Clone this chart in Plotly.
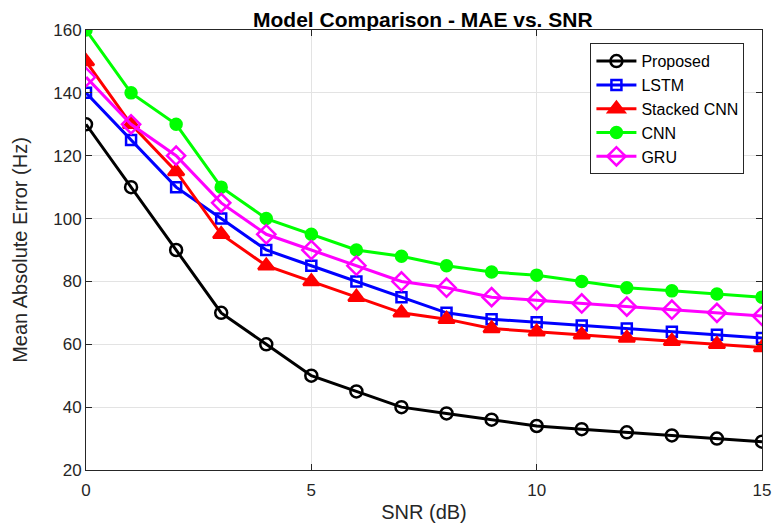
import plotly.graph_objects as go

snr = list(range(16))
proposed = [130, 110, 90, 70, 60, 50, 45, 40, 38, 36, 34, 33, 32, 31, 30, 29]
lstm = [140, 125, 110, 100, 90, 85, 80, 75, 70, 68, 67, 66, 65, 64, 63, 62]
stacked_cnn = [150, 130, 115, 95, 85, 80, 75, 70, 68, 65, 64, 63, 62, 61, 60, 59]
cnn = [160, 140, 130, 110, 100, 95, 90, 88, 85, 83, 82, 80, 78, 77, 76, 75]
gru = [145, 130, 120, 105, 95, 90, 85, 80, 78, 75, 74, 73, 72, 71, 70, 69]

series = [
    ("Proposed", proposed, "#000000", "circle-open", 12),
    ("LSTM", lstm, "#0000ff", "square-open", 10),
    ("Stacked CNN", stacked_cnn, "#ff0000", "triangle-up", 14),
    ("CNN", cnn, "#00ff00", "circle", 11),
    ("GRU", gru, "#ff00ff", "diamond-open", 14),
]

fig = go.Figure()
for name, vals, color, sym, size in series:
    fig.add_trace(go.Scatter(
        x=snr, y=vals, mode="lines+markers", name=name,
        line=dict(color=color, width=3),
        marker=dict(symbol=sym, size=size, color=color,
                    line=dict(color=color, width=2.5)),
    ))

font = "Liberation Sans, Arial, sans-serif"
fig.update_layout(
    width=773, height=523,
    margin=dict(l=86, r=11, t=30, b=53, autoexpand=False),
    paper_bgcolor="white", plot_bgcolor="white",
    font=dict(family=font, size=17, color="#262626"),
    title=dict(text="<b>Model Comparison - MAE vs. SNR</b>", x=0.547, xanchor="center",
               y=0.948, yanchor="bottom", font=dict(size=21, color="#000000")),
    legend=dict(x=0.974, xanchor="right", y=0.97, yanchor="top",
                bordercolor="#262626", borderwidth=1, bgcolor="white",
                font=dict(size=16, color="#000000"), tracegroupgap=0,
                itemwidth=40),
    showlegend=True,
)
fig.update_xaxes(
    range=[0, 15], tickvals=[0, 5, 10, 15], ticks="inside", ticklen=6,
    tickcolor="#262626", showline=True, linecolor="#262626", linewidth=1,
    mirror="ticks", showgrid=True, gridcolor="#e3e3e3", gridwidth=1,
    zeroline=False, automargin=False, ticklabelstandoff=5,
    title=dict(text="SNR (dB)", standoff=8),
)
fig.update_yaxes(
    range=[20, 160], tickvals=[20, 40, 60, 80, 100, 120, 140, 160], ticks="inside",
    ticklen=6, tickcolor="#262626", showline=True, linecolor="#262626", linewidth=1,
    mirror="ticks", showgrid=True, gridcolor="#e3e3e3", gridwidth=1,
    zeroline=False, automargin=False, title=dict(text="Mean Absolute Error (Hz)", standoff=20),
)

fig.write_html("out.html")
